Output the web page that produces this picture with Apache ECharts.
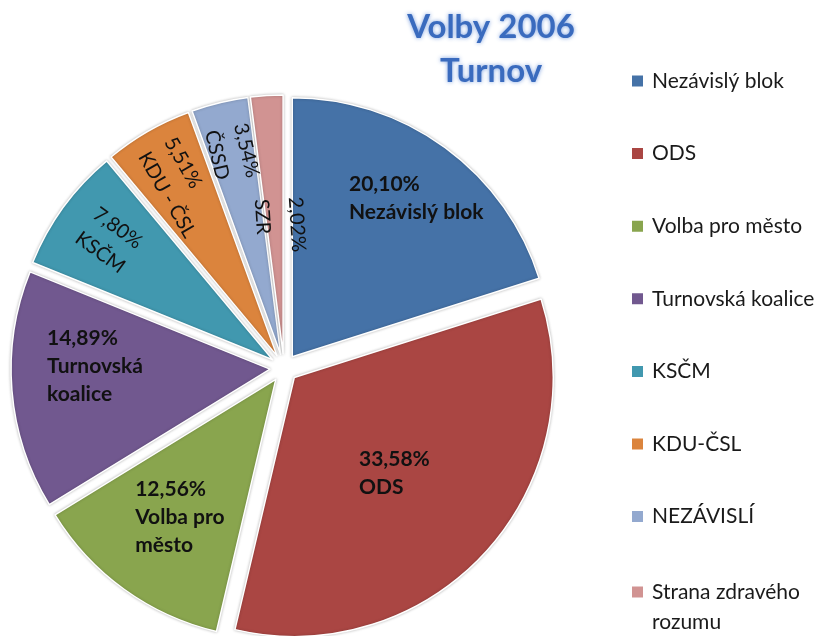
<!DOCTYPE html>
<html>
<head>
<meta charset="utf-8">
<script src="https://cdn.jsdelivr.net/npm/echarts@6/dist/echarts.min.js"></script>
<style>
  html, body { margin: 0; padding: 0; background: #fff; }
  #chart-panel { width: 824px; height: 636px; }
</style>
</head>
<body>
<div id="chart-panel"></div>
<script>
// legend names, slice labels and shares (%)
var legendNames = ['Nezávislý blok', 'ODS', 'Volba pro město', 'Turnovská koalice', 'KSČM', 'KDU-ČSL', 'NEZÁVISLÍ', 'Strana zdravého rozumu'];
var sliceLabels = ['Nezávislý blok', 'ODS', 'Volba pro\nměsto', 'Turnovská\nkoalice', 'KSČM', 'KDU - ČSL', 'ČSSD', 'SZR'];
var shares = [20.10, 33.58, 12.56, 14.89, 7.80, 5.51, 3.54, 2.02];

var colors = ['#4572A7', '#AA4643', '#89A54E', '#71588F', '#4198AF', '#DB843D', '#93A9CF', '#D19392'];
// small slices get radial, regular-weight labels
var labelRadial = [false, false, false, false, true, true, true, true];
// padding pushes each label away from the default mid-radius spot
var labelPads = [
    [0, 0, 104, 93],
    [11, 0, 0, 7],
    [61, 35, 0, 0],
    [0, 85, 28, 0],
    [0, 138, 0, 0],
    [0, 122, 0, 0],
    [0, 146, 0, 0],
    [0, 0, 10, 10]
];

var CX = 284, CY = 368, R = 259, OFFSET = 14;
var FONT = 'Lato';

var chart = echarts.init(document.getElementById('chart-panel'));

// measure text so every line of a label can be left aligned in its block
var ctx = document.createElement('canvas').getContext('2d');
function textWidth(s, weight, size) {
    ctx.font = weight + ' ' + size + 'px ' + FONT;
    return ctx.measureText(s).width;
}

function pctText(v) {
    return v.toFixed(2).replace('.', ',') + '%';
}

var d = [];
for (var i = 0; i < shares.length; i++) {
    var weight = labelRadial[i] ? 'normal' : 'bold';
    var size = labelRadial[i] ? 20 : 21;
    var lines = [pctText(shares[i])].concat(sliceLabels[i].split('\n'));
    var w = 0;
    for (var k = 0; k < lines.length; k++) w = Math.max(w, textWidth(lines[k], weight, size));
    d.push({
        name: legendNames[i],
        value: shares[i],
        selected: true,
        itemStyle: { color: colors[i] },
        label: {
            rotate: labelRadial[i] ? 'radial' : 0,
            padding: labelPads[i],
            rich: {
                t: {
                    width: Math.ceil(w) + 1,
                    align: 'left',
                    fontFamily: FONT,
                    fontSize: size,
                    fontWeight: weight,
                    lineHeight: i === 7 ? 34 : (labelRadial[i] ? 30 : 28),
                    color: '#111'
                }
            }
        }
    });
}

var legendText = {
    fontFamily: FONT,
    fontSize: 21,
    color: '#1a1a1a',
    lineHeight: 30,
    padding: [0, 0, 0, 3]
};

var option = {
    backgroundColor: '#fff',
    animation: false,
    title: {
        text: 'Volby 2006\nTurnov',
        left: 486,
        top: 0,
        textAlign: 'center',
        textStyle: {
            fontFamily: FONT,
            fontSize: 33,
            fontWeight: 'bold',
            lineHeight: 44,
            color: '#3A6BBE',
            textShadowColor: 'rgba(110,150,220,0.9)',
            textShadowBlur: 4
        }
    },
    legend: [{
        orient: 'vertical',
        left: 630,
        top: 66,
        height: 520,
        padding: 0,
        itemWidth: 13,
        itemHeight: 13,
        itemGap: 42.6,
        icon: 'rect',
        selectedMode: false,
        textStyle: legendText,
        data: legendNames.slice(0, 7)
    }, {
        // last entry wraps onto two lines; a blank first line keeps
        // "Strana zdravého" level with its marker
        orient: 'vertical',
        left: 630,
        top: 547,
        height: 90,
        padding: 0,
        itemWidth: 13,
        itemHeight: 13,
        icon: 'rect',
        selectedMode: false,
        formatter: function (name) {
            return '\n' + name.replace('zdravého ', 'zdravého\n');
        },
        textStyle: legendText,
        data: legendNames.slice(7)
    }],
    series: [{
        type: 'pie',
        center: [CX, CY],
        radius: R,
        startAngle: 90,
        clockwise: true,
        selectedMode: 'multiple',
        selectedOffset: OFFSET,
        avoidLabelOverlap: false,
        emphasis: { disabled: true },
        itemStyle: {
            borderColor: '#fff',
            borderWidth: 1.5,
            shadowColor: 'rgba(0,0,0,0.25)',
            shadowBlur: 3
        },
        label: {
            show: true,
            position: 'inside',
            formatter: function (p) {
                var lines = [pctText(shares[p.dataIndex])].concat(sliceLabels[p.dataIndex].split('\n'));
                return lines.map(function (s) { return '{t|' + s + '}'; }).join('\n');
            }
        },
        labelLine: { show: false },
        data: d
    }]
};

chart.setOption(option);
</script>
</body>
</html>
